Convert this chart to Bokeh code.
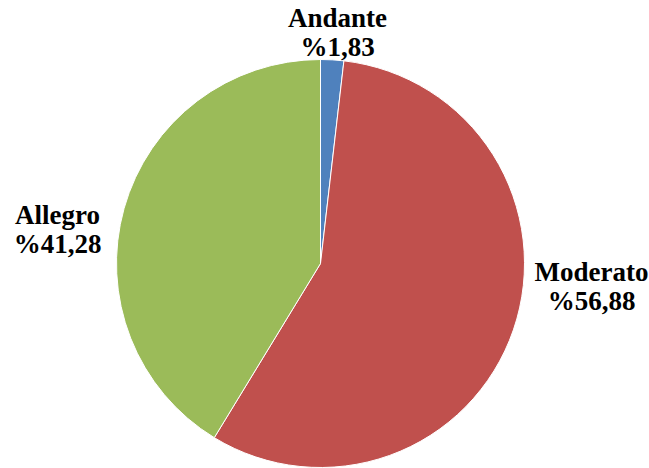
import math
from bokeh.plotting import figure
from bokeh.models import Range1d, ColumnDataSource
from bokeh.core.properties import value
from bokeh.embed import file_html
from bokeh.resources import INLINE

# ---- data ----
categories = ["Andante", "Moderato", "Allegro"]
percentages = [1.83, 56.88, 41.28]
colors = ["#4F81BD", "#C0504D", "#9BBB59"]

# ---- layout (pixel units) ----
W, H = 649, 468
cx, cy, R = 320, 205, 204
# label offsets from pie centre (first-line baseline), style only
label_offsets = [(17, 246), (271, -8), (-263, 49)]
line_gap = 29

total = sum(percentages)
starts, ends = [], []
cum = 0.0
for v in percentages:
    starts.append(math.pi / 2 - 2 * math.pi * cum / total)
    cum += v
    ends.append(math.pi / 2 - 2 * math.pi * cum / total)

src = ColumnDataSource(dict(
    x=[cx] * len(categories), y=[cy] * len(categories),
    start=starts, end=ends, color=colors, cat=categories))

p = figure(width=W, height=H, output_backend="svg", toolbar_location=None,
           x_range=Range1d(0, W), y_range=Range1d(0, H), min_border=0,
           outline_line_color=None, background_fill_color="white")
p.axis.visible = False
p.grid.visible = False

p.wedge(x="x", y="y", radius=R, start_angle="start", end_angle="end",
        direction="clock", fill_color="color", line_color="white",
        line_width=1, source=src)

def fmt(v):
    return "%" + ("%.2f" % v).replace(".", ",")

tx, ty, tt = [], [], []
for cat, v, (dx, dy) in zip(categories, percentages, label_offsets):
    tx += [cx + dx, cx + dx]
    ty += [cy + dy, cy + dy - line_gap]
    tt += [cat, fmt(v)]

p.text(x=tx, y=ty, text=tt, text_align="center", text_baseline="alphabetic",
       text_font=value("Liberation Serif"), text_font_style="bold",
       text_font_size="27px", text_color="black")

open("out.html", "w").write(file_html(p, INLINE))
